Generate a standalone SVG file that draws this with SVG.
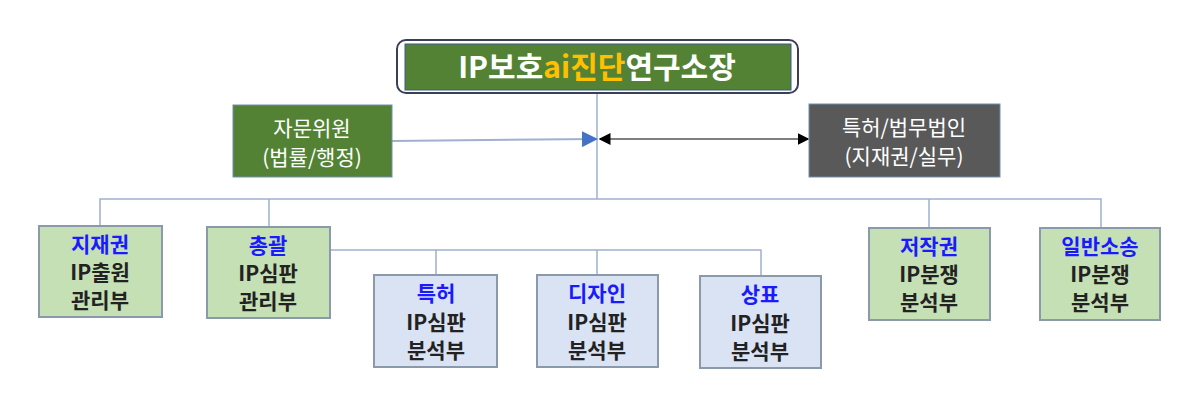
<svg xmlns="http://www.w3.org/2000/svg" width="1200" height="404" viewBox="0 0 1200 404">
<defs>
<style>
text{font-family:"Noto Sans CJK KR","Noto Sans",sans-serif;text-anchor:middle}
.b{font-weight:bold;font-size:21px;fill:#222}
.h{fill:#1a1aff}
.g{fill:#c5e0b4;stroke:#8a9aaa;stroke-width:2}
.l{fill:#dae3f3;stroke:#8a9aaa;stroke-width:2}
.c{fill:none;stroke:#9fb0d0;stroke-width:1.5}
.w{fill:#fff;font-size:21px}
</style>
<marker id="bl" markerWidth="8" markerHeight="8" refX="7" refY="4" orient="auto"><path d="M0,0L8,4L0,8z" fill="#4472c4"/></marker>
<marker id="bk" markerWidth="8" markerHeight="8" refX="7" refY="4" orient="auto-start-reverse"><path d="M0,0L8,4L0,8z" fill="#000"/></marker>
</defs>
<rect width="1200" height="404" fill="#fff"/>
<g id="connectors">
<path class="c" d="M597,93V199M100,226V199H1101V228M269,199V227M929,199V228"/>
<path class="c" d="M331,250H761V275M436,250V275M597,250V275"/>
<line x1="392" y1="141" x2="596" y2="139" stroke="#9fb0d0" stroke-width="2" marker-end="url(#bl)"/>
<line x1="600" y1="139" x2="808" y2="139" stroke="#555" stroke-width="1.5" marker-start="url(#bk)" marker-end="url(#bk)"/>
</g>
<g id="top">
<rect x="397" y="40" width="401" height="53" rx="9" fill="#fff" stroke="#3a3f55" stroke-width="2"/>
<rect x="405" y="44" width="386" height="46" fill="#548235" stroke="#3a5a8a" stroke-width="1"/>
<text x="597" y="78" font-size="30" font-weight="bold" fill="#fff">IP보호<tspan fill="#ffc000">ai진단</tspan>연구소장</text>
</g>
<g id="advisor">
<rect x="233" y="105" width="159" height="72" fill="#548235" stroke="#6f8fb0"/>
<text class="w" x="312" y="136">자문위원</text>
<text class="w" x="312" y="165">(법률/행정)</text>
</g>
<g id="lawfirm">
<rect x="809" y="104" width="191" height="73" fill="#595959" stroke="#6f8fb0"/>
<text class="w" x="904" y="135">특허/법무법인</text>
<text class="w" x="904" y="164">(지재권/실무)</text>
</g>
<g id="n1"><rect class="g" x="39" y="226" width="123" height="91"/>
<text class="b h" x="100" y="252">지재권</text><text class="b" x="100" y="280">IP출원</text><text class="b" x="100" y="308">관리부</text></g>
<g id="n2"><rect class="g" x="207" y="227" width="123" height="91"/>
<text class="b h" x="268" y="253">총괄</text><text class="b" x="268" y="281">IP심판</text><text class="b" x="268" y="309">관리부</text></g>
<g id="n3"><rect class="l" x="374" y="275" width="123" height="92"/>
<text class="b h" x="436" y="301">특허</text><text class="b" x="436" y="330">IP심판</text><text class="b" x="436" y="358">분석부</text></g>
<g id="n4"><rect class="l" x="537" y="275" width="121" height="92"/>
<text class="b h" x="597" y="301">디자인</text><text class="b" x="597" y="330">IP심판</text><text class="b" x="597" y="358">분석부</text></g>
<g id="n5"><rect class="l" x="700" y="276" width="121" height="92"/>
<text class="b h" x="760" y="302">상표</text><text class="b" x="760" y="331">IP심판</text><text class="b" x="760" y="359">분석부</text></g>
<g id="n6"><rect class="g" x="869" y="228" width="121" height="92"/>
<text class="b h" x="929" y="254">저작권</text><text class="b" x="929" y="282">IP분쟁</text><text class="b" x="929" y="310">분석부</text></g>
<g id="n7"><rect class="g" x="1040" y="228" width="120" height="92"/>
<text class="b h" x="1100" y="254">일반소송</text><text class="b" x="1100" y="282">IP분쟁</text><text class="b" x="1100" y="310">분석부</text></g>
</svg>
